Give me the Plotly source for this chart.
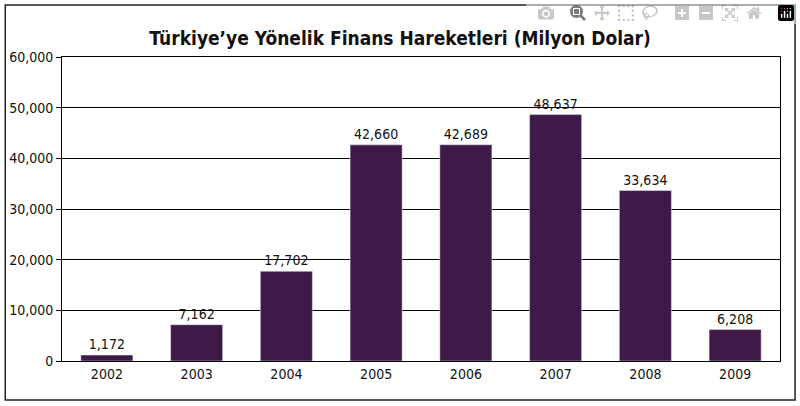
import plotly.graph_objects as go

years = ["2002", "2003", "2004", "2005", "2006", "2007", "2008", "2009"]
values = [1172, 7162, 17702, 42660, 42689, 48637, 33634, 6208]
tick_vals = [0, 10000, 20000, 30000, 40000, 50000, 60000]

FONT = "Liberation Sans Narrow, DejaVu Sans Condensed, Arial Narrow, sans-serif"

fig = go.Figure(
    go.Bar(
        x=years,
        y=values,
        marker_color="#3f1947",
        text=[f"{v:,}" for v in values],
        textposition="outside",
        textfont=dict(family=FONT, size=14, color="#111"),
        cliponaxis=False,
    )
)

fig.update_layout(
    width=800,
    height=406,
    margin=dict(l=62, r=20, t=57, b=45, autoexpand=False),
    paper_bgcolor="white",
    plot_bgcolor="white",
    bargap=0.42,
    showlegend=False,
    title=dict(
        text="<b>Türkiye’ye Yönelik Finans Hareketleri (Milyon Dolar)</b>",
        x=0.5,
        xanchor="center",
        y=0.905,
        yanchor="middle",
        font=dict(family=FONT, size=19, color="#111"),
    ),
    shapes=[
        dict(
            type="rect", xref="paper", yref="paper",
            x0=-0.079, x1=1.021, y0=-0.128, y1=1.171,
            line=dict(color="#222", width=1.5),
        )
    ],
)

fig.update_xaxes(
    showline=True, linecolor="black", linewidth=1, mirror=True,
    tickfont=dict(family=FONT, size=14, color="#111"),
    ticks="", showgrid=False, automargin=False,
)
fig.update_yaxes(
    range=[0, 60000],
    tickvals=tick_vals,
    tickformat=",d",
    showgrid=True, gridcolor="black", gridwidth=1,
    showline=True, linecolor="black", linewidth=1, mirror=True,
    ticks="outside", ticklen=5, tickcolor="black",
    tickfont=dict(family=FONT, size=14, color="#111"),
    zeroline=False, automargin=False,
)

fig.write_html("out.html")

# drop the default page margin so the figure sits at the window origin
with open("out.html", encoding="utf-8") as f:
    html = f.read()
html = html.replace("<body>", '<body style="margin:0">', 1)
with open("out.html", "w", encoding="utf-8") as f:
    f.write(html)
